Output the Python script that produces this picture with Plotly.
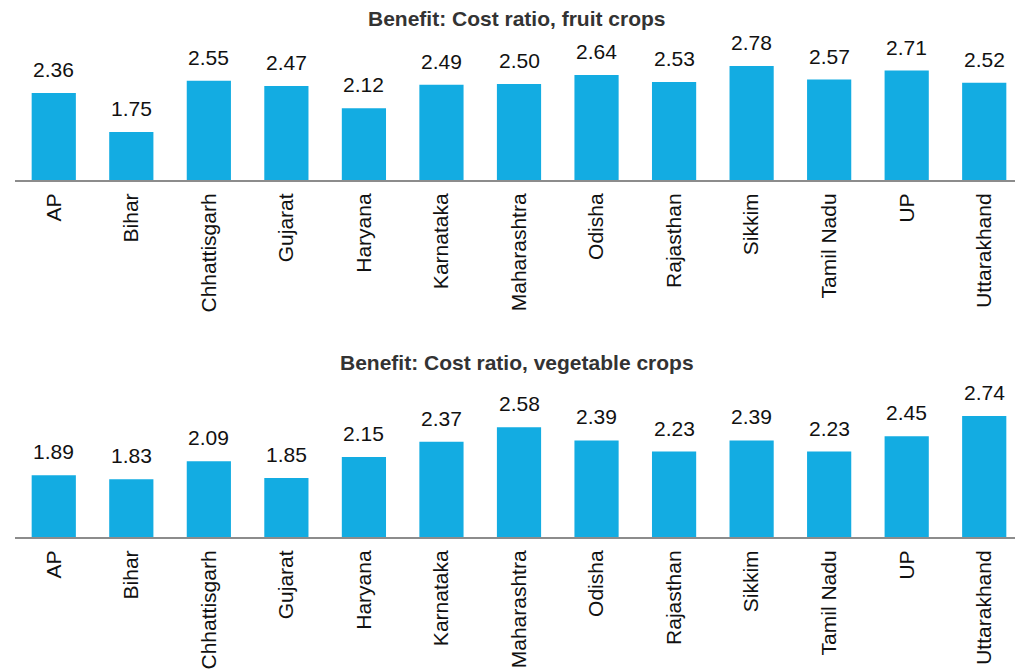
import plotly.graph_objects as go
from plotly.subplots import make_subplots

states = ["AP", "Bihar", "Chhattisgarh", "Gujarat", "Haryana", "Karnataka",
          "Maharashtra", "Odisha", "Rajasthan", "Sikkim", "Tamil Nadu", "UP",
          "Uttarakhand"]
fruit_ratio = [2.36, 1.75, 2.55, 2.47, 2.12, 2.49, 2.50, 2.64, 2.53, 2.78,
               2.57, 2.71, 2.52]
veg_ratio = [1.89, 1.83, 2.09, 1.85, 2.15, 2.37, 2.58, 2.39, 2.23, 2.39,
             2.23, 2.45, 2.74]
titles = ["Benefit: Cost ratio, fruit crops",
          "Benefit: Cost ratio, vegetable crops"]

BAR = "#13ACE2"
FONT = "Arial, Liberation Sans, sans-serif"
W, H = 1015, 661  # page body has an 8px margin

fig = make_subplots(rows=2, cols=1)

for i, vals in enumerate([fruit_ratio, veg_ratio]):
  row = i + 1
  # bars start from 1.0 like the original chart
  fig.add_trace(go.Bar(x=states, y=[v - 1 for v in vals], base=1,
                       marker_color=BAR, marker_line_width=0, width=0.57,
                       customdata=vals, hovertemplate="%{x}: %{customdata}"),
                row=row, col=1)
  for s, v in zip(states, vals):
    fig.add_annotation(x=s, y=v, text=f"{v:.2f}", showarrow=False,
                       yanchor="bottom", yshift=10,
                       font=dict(size=21, color="#111111", family=FONT),
                       xref="x" if row == 1 else "x2",
                       yref="y" if row == 1 else "y2")

fig.update_xaxes(showline=True, linecolor="#8c8c8c", linewidth=2,
                 showgrid=False, zeroline=False, tickangle=-90,
                 ticks="outside", ticklen=3, tickcolor="rgba(0,0,0,0)",
                 tickfont=dict(size=21, color="#111111", family=FONT),
                 domain=[7 / W, 1.0], automargin=False)
fig.update_yaxes(visible=False, showgrid=False, zeroline=False,
                 automargin=False)

fig.update_layout(
  yaxis=dict(range=[1, 3.0], domain=[1 - 172 / H, 1 - 44 / H]),
  yaxis2=dict(range=[1, 2.9], domain=[1 - 529 / H, 1 - 397 / H]),
  width=W, height=H,
  margin=dict(l=0, r=0, t=0, b=0, autoexpand=False),
  plot_bgcolor="white", paper_bgcolor="white",
  showlegend=False, bargap=0.43,
  font=dict(family=FONT),
)

fig.add_annotation(text=f"<b>{titles[0]}</b>", x=509 / W, y=1,
                   xref="paper", yref="paper", showarrow=False,
                   yanchor="top", borderpad=0, yshift=2,
                   font=dict(size=21, color="#333333", family=FONT))
fig.add_annotation(text=f"<b>{titles[1]}</b>", x=509 / W, y=1 - 354 / H,
                   xref="paper", yref="paper", showarrow=False,
                   yanchor="middle",
                   font=dict(size=21, color="#333333", family=FONT))

fig.write_html("out.html")
